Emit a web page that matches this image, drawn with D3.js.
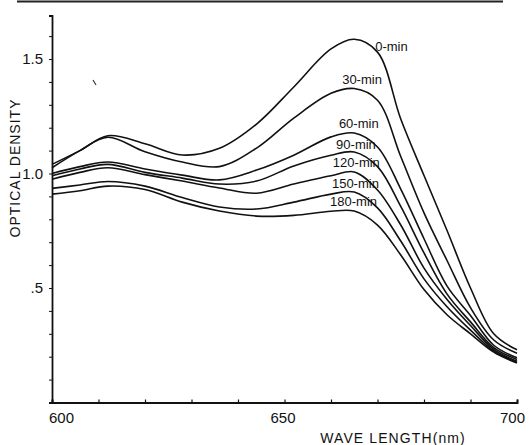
<!DOCTYPE html>
<html>
<head>
<meta charset="utf-8">
<script src="https://cdn.jsdelivr.net/npm/d3@7"></script>
<style>
  html, body { margin: 0; padding: 0; background: #fff; }
  svg { display: block; }
  text { font-family: "Liberation Sans", Arial, sans-serif; fill: #111; }
</style>
</head>
<body>
<svg id="chart" width="531" height="445"></svg>
<script>
// ---- data ----
const wavelengths = [600, 606, 612, 620, 628, 636, 644, 652, 660, 665, 670, 675, 680, 685, 690, 695, 700];
const od0   = [1.04, 1.10, 1.165, 1.13, 1.081, 1.11, 1.216, 1.378, 1.544, 1.586, 1.53, 1.238, 0.991, 0.749, 0.50, 0.30, 0.23];
const od30  = [1.025, 1.10, 1.158, 1.095, 1.05, 1.03, 1.111, 1.242, 1.35, 1.371, 1.32, 1.074, 0.828, 0.618, 0.414, 0.273, 0.215];
const od60  = [1.00, 1.03, 1.05, 1.02, 0.993, 0.972, 1.015, 1.08, 1.16, 1.177, 1.116, 0.932, 0.715, 0.507, 0.38, 0.25, 0.195];
const od90  = [0.99, 1.02, 1.04, 1.005, 0.98, 0.954, 0.967, 1.033, 1.08, 1.094, 1.03, 0.856, 0.653, 0.472, 0.352, 0.24, 0.188];
const od120 = [0.975, 1.005, 1.025, 0.995, 0.967, 0.937, 0.914, 0.954, 0.99, 1.007, 0.928, 0.775, 0.587, 0.449, 0.336, 0.232, 0.18];
const od150 = [0.935, 0.95, 0.965, 0.945, 0.895, 0.854, 0.845, 0.875, 0.91, 0.919, 0.85, 0.705, 0.54, 0.417, 0.316, 0.225, 0.176];
const od180 = [0.91, 0.925, 0.945, 0.93, 0.875, 0.836, 0.814, 0.817, 0.835, 0.836, 0.775, 0.644, 0.493, 0.382, 0.30, 0.22, 0.172];
const seriesNames = ["0-min", "30-min", "60-min", "90-min", "120-min", "150-min", "180-min"];
const labelWl = [669.5, 662.4, 661.7, 661.1, 660.4, 660.2, 659.8];
const labelOd = [1.549, 1.408, 1.212, 1.124, 1.042, 0.950, 0.871];
const xTickValues = [600, 650, 700];
const xTickLabels = ["600", "650", "700"];
const yTickValues = [0.5, 1.0, 1.5];
const yTickLabels = [".5", "1.0", "1.5"];
const xTitle = "WAVE LENGTH(nm)";
const yTitle = "OPTICAL  DENSITY";

// ---- layout ----
const W = 531, H = 445;
const margin = { left: 52, right: 14, top: 15.5, bottom: 42.5 };
const svg = d3.select("#chart");
svg.append("rect").attr("width", W).attr("height", H).attr("fill", "#fff");

const x = d3.scaleLinear().domain([600, 700]).range([margin.left, W - margin.right]);
const y = d3.scaleLinear().domain([0, 1.69]).range([H - margin.bottom, margin.top]);

// rule at the top (edge of the previous figure)
svg.append("line").attr("x1", 17).attr("x2", 503).attr("y1", 1.5).attr("y2", 1.5)
  .attr("stroke", "#222").attr("stroke-width", 2);
// small speck
svg.append("path").attr("d", "M93,80 L96,85").attr("stroke", "#333").attr("stroke-width", 1.2);

// ---- axes ----
const minorX = d3.range(600, 701, 10);
const gx = svg.append("g").attr("transform", `translate(0,${y(0)})`)
  .call(d3.axisBottom(x).tickValues(minorX).tickSize(-3).tickFormat(""));
gx.select(".domain").attr("stroke", "#111").attr("stroke-width", 2);
gx.selectAll(".tick line").attr("stroke", "#111").attr("stroke-width", 1.2);

const gxl = svg.append("g").attr("transform", `translate(0,${y(0)})`)
  .call(d3.axisBottom(x).tickValues(xTickValues).tickSize(0).tickPadding(10)
    .tickFormat((d, i) => xTickLabels[i]));
gxl.select(".domain").remove();
gxl.selectAll(".tick text").attr("font-size", 15).attr("fill", "#111")
  .attr("font-family", "'Liberation Sans', Arial, sans-serif")
  .attr("dx", (d, i) => i === 0 ? 9 : (i === 1 ? -2 : -5));

const minorY = d3.range(1, 17).map(d => d / 10);
const gy = svg.append("g").attr("transform", `translate(${x(600)},0)`)
  .call(d3.axisLeft(y).tickValues(minorY).tickSize(3).tickFormat(""));
gy.select(".domain").attr("stroke", "#111").attr("stroke-width", 1.8);
gy.selectAll(".tick line").attr("stroke", "#111").attr("stroke-width", 1);

const gyl = svg.append("g").attr("transform", `translate(${x(600)},0)`)
  .call(d3.axisLeft(y).tickValues(yTickValues).tickSize(0).tickPadding(9)
    .tickFormat((d, i) => yTickLabels[i]));
gyl.select(".domain").remove();
gyl.selectAll(".tick text").attr("font-size", 15).attr("fill", "#111")
  .attr("font-family", "'Liberation Sans', Arial, sans-serif");

// axis titles
svg.append("text").attr("x", 393).attr("y", 443)
  .attr("text-anchor", "middle").attr("font-size", 14).attr("letter-spacing", 1.1)
  .text(xTitle);
svg.append("text").attr("transform", `translate(20,${168}) rotate(-90)`)
  .attr("text-anchor", "middle").attr("font-size", 14).attr("letter-spacing", 1)
  .text(yTitle);

// ---- curves ----
const allSeries = [od0, od30, od60, od90, od120, od150, od180];
const line = d3.line()
  .x(d => x(d[0])).y(d => y(d[1]))
  .curve(d3.curveCatmullRom.alpha(0.5));

svg.append("g").selectAll("path")
  .data(allSeries.map(s => wavelengths.map((w, i) => [w, s[i]])))
  .join("path")
  .attr("d", line)
  .attr("fill", "none")
  .attr("stroke", "#111")
  .attr("stroke-width", 1.6);

// curve labels
svg.append("g").selectAll("text")
  .data(seriesNames)
  .join("text")
  .attr("x", (d, i) => x(labelWl[i]))
  .attr("y", (d, i) => y(labelOd[i]))
  .attr("dominant-baseline", "middle")
  .attr("font-size", 13)
  .text(d => d);
</script>
</body>
</html>
